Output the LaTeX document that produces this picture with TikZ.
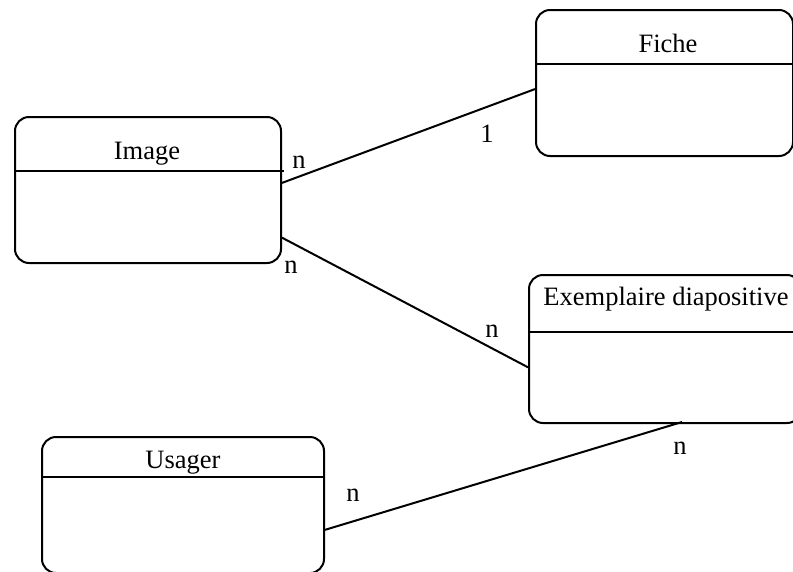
\documentclass[tikz,border=0pt]{standalone}
\usepackage{fontspec}
\setmainfont{Liberation Serif}
\usetikzlibrary{calc}
\begin{document}
\begin{tikzpicture}[x=1pt,y=-1pt,
  entity/.style={draw, line width=2pt, rounded corners=14pt, inner sep=0pt, anchor=north west},
  heading/.style={font=\fontsize{26.5}{30}\selectfont, inner sep=0pt, anchor=base},
  card/.style={font=\fontsize{26.5}{30}\selectfont, inner sep=0pt, anchor=base},
  link/.style={line width=2pt},
  sepline/.style={line width=2pt}]
\useasboundingbox (0,0) rectangle (793,571);
\clip (0,0) rectangle (793,571);
% entities
\node[entity, minimum width=257pt, minimum height=146pt] (fiche) at (535,9) {};
\node[entity, minimum width=266pt, minimum height=146pt] (img) at (14,116) {};
\node[entity, minimum width=272pt, minimum height=148pt] (exem) at (528,274) {};
\node[entity, minimum width=282pt, minimum height=136pt] (usager) at (41,436) {};
% header separators
\draw[sepline] (fiche.west |- 0,64) -- (fiche.east |- 0,64);
\draw[sepline] (img.west |- 0,171) -- ($(img.east |- 0,171)+(2,0)$);
\draw[sepline] (exem.west |- 0,332) -- (exem.east |- 0,332);
\draw[sepline] (usager.west |- 0,477) -- (usager.east |- 0,477);
% titles
\node[heading] (tfiche) at (668,52) {Fiche};
\node[heading] (timg) at (147,159) {Image};
\node[heading] (texem) at (666,305) {Exemplaire diapositive};
\node[heading] (tusager) at (183,468) {Usager};
% connection points
\coordinate (p1) at ($(img.north east)!0.452!(img.south east)$);
\coordinate (q1) at ($(fiche.north west)!0.541!(fiche.south west)$);
\coordinate (p2) at ($(img.north east)!0.822!(img.south east)$);
\coordinate (q2) at ($(exem.north west)!0.622!(exem.south west)$);
\coordinate (p3) at ($(usager.north east)!0.68!(usager.south east)$);
\coordinate (q3) at (682,422);
% connectors
\draw[link] (p1) -- (q1);
\draw[link] (p2) -- (q2);
\draw[link] (p3) -- (q3);
% cardinalities
\node[card] (c1a) at (299,168) {n};
\node[card] (c1b) at (487,142) {1};
\node[card] (c2a) at (291,273) {n};
\node[card] (c2b) at (492,337) {n};
\node[card] (c3a) at (353,501) {n};
\node[card] (c3b) at (680,454) {n};
\end{tikzpicture}
\end{document}
